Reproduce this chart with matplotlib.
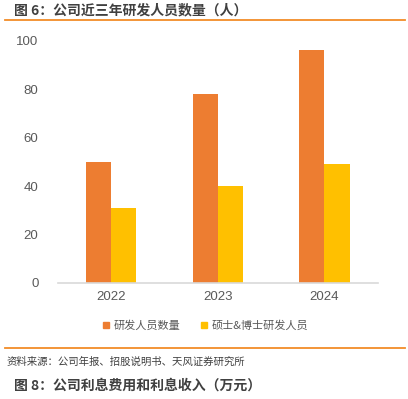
import matplotlib.pyplot as plt
import numpy as np
from matplotlib.lines import Line2D

plt.rcParams['font.family'] = ['Noto Sans CJK SC', 'DejaVu Sans']

years = ['2022', '2023', '2024']
rd_staff = [50, 78, 96]
phd_master = [31, 40, 49]
labels = ['研发人员数量', '硕士&博士研发人员']
colors = ['#ED7D31', '#FFC000']

fig = plt.figure(figsize=(4.08, 3.99), dpi=100)
ax = fig.add_axes([0.142, 0.291, 0.784, 0.607])

x = np.arange(len(years))
w = 0.235
ax.bar(x - w / 2, rd_staff, w, color=colors[0], label=labels[0])
ax.bar(x + w / 2, phd_master, w, color=colors[1], label=labels[1])

ax.set_xlim(-0.5, 2.5)
ax.set_ylim(0, 100)
ax.set_yticks([0, 20, 40, 60, 80, 100])
ax.set_xticks(x)
ax.set_xticklabels(years)
for s in ['top', 'right', 'left']:
    ax.spines[s].set_visible(False)
ax.spines['bottom'].set_color('#D9D9D9')
ax.spines['bottom'].set_linewidth(1.2)
ax.tick_params(axis='both', length=0, colors='#595959', labelsize=9.5)
ax.tick_params(axis='y', pad=14)
ax.tick_params(axis='x', pad=6)
for t in ax.get_xticklabels() + ax.get_yticklabels():
    t.set_family(['Liberation Sans', 'DejaVu Sans'])

handles = [Line2D([], [], marker='s', linestyle='', color=c, markersize=5) for c in colors]
fig.legend(handles, labels, loc='center', bbox_to_anchor=(0.5, 0.185), ncol=2,
           frameon=False, fontsize=8, labelcolor='#595959', handletextpad=0.2,
           columnspacing=1.6, handlelength=1.0)

# header / footer
fig.text(0.034, 0.975, '图 6：公司近三年研发人员数量（人）', fontsize=10, fontweight='bold',
         color='#404040', va='center')
fig.add_artist(Line2D([0.012, 0.993], [0.950, 0.950], color='#F28C28', linewidth=1.3))
fig.add_artist(Line2D([0.012, 0.993], [0.128, 0.128], color='#F28C28', linewidth=1.3))
fig.text(0.015, 0.093, '资料来源：公司年报、招股说明书、天风证券研究所', fontsize=7.5,
         color='#404040', va='center')
fig.text(0.034, 0.033, '图 8：公司利息费用和利息收入（万元）', fontsize=10, fontweight='bold',
         color='#404040', va='center')

fig.savefig('out.png', dpi=100)
